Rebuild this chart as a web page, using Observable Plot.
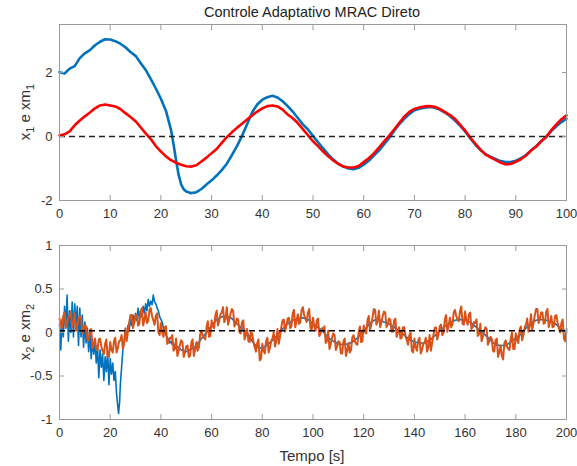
<!DOCTYPE html>
<html><head><meta charset="utf-8">
<script src="https://cdn.jsdelivr.net/npm/d3@7"></script>
<script src="https://cdn.jsdelivr.net/npm/@observablehq/plot@0.6"></script>
<style>
body{margin:0;background:#fff;font-family:"Liberation Sans",Arial,sans-serif}
#c{position:relative;width:577px;height:466px}
#c svg{position:absolute;left:0;overflow:visible}
</style>
</head><body><div id="c"></div>
<script>
// ---------- data ----------
const title = "Controle Adaptativo MRAC Direto";
const xLabel = "Tempo [s]";
const xTicksTop = [0,10,20,30,40,50,60,70,80,90,100];
const yTicksTop = [-2,0,2];
const xTicksBot = [0,20,40,60,80,100,120,140,160,180,200];
const yTicksBot = [-1,-0.5,0,0.5,1];
const refTop = 0;
const refBot = 0.02;

// top: x1 (blue)
const tX1 = [0,1,2,3,4,5,6,7,8,9,10,11,12,13,14,15,16,17,18,19,20,21,22,22.5,23,23.5,24,24.5,25,26,27,28,29,30,31,32,33,34,35,36,37,38,39,40,41,42,43,44,45,46,47,48,49,50,51,52,53,54,55,56,57,58,59,60,61,62,63,64,65,66,67,68,69,70,71,72,73,74,75,76,77,78,79,80,81,82,83,84,85,86,87,88,89,90,91,92,93,94,95,96,97,98,99,100];
const x1 = [2.01,1.97,2.12,2.2,2.45,2.6,2.7,2.85,2.96,3.04,3.03,2.98,2.9,2.79,2.64,2.52,2.3,2.08,1.8,1.5,1.18,0.8,0.2,-0.25,-0.75,-1.2,-1.5,-1.65,-1.72,-1.77,-1.74,-1.64,-1.5,-1.37,-1.22,-1.05,-0.85,-0.58,-0.3,0.02,0.38,0.76,1.0,1.15,1.23,1.27,1.22,1.1,0.95,0.78,0.58,0.38,0.22,0.02,-0.18,-0.37,-0.56,-0.72,-0.85,-0.94,-1.0,-1.02,-0.98,-0.88,-0.76,-0.6,-0.44,-0.25,-0.05,0.17,0.38,0.55,0.7,0.82,0.87,0.9,0.92,0.9,0.84,0.75,0.64,0.5,0.34,0.16,-0.05,-0.25,-0.42,-0.55,-0.63,-0.7,-0.77,-0.8,-0.8,-0.76,-0.68,-0.58,-0.44,-0.3,-0.15,-0.02,0.17,0.32,0.45,0.56];

// top: xm1 (red), t = 0..100 step 1
const xm1 = [0.03,0.07,0.16,0.35,0.5,0.63,0.75,0.88,0.97,1.0,0.97,0.94,0.86,0.73,0.61,0.48,0.29,0.1,-0.08,-0.3,-0.47,-0.62,-0.74,-0.82,-0.88,-0.93,-0.94,-0.9,-0.78,-0.66,-0.52,-0.39,-0.2,-0.02,0.13,0.27,0.4,0.53,0.66,0.78,0.88,0.95,0.97,0.94,0.84,0.69,0.57,0.42,0.23,0.04,-0.15,-0.3,-0.47,-0.62,-0.75,-0.86,-0.94,-0.97,-0.97,-0.92,-0.8,-0.68,-0.53,-0.35,-0.16,0.02,0.22,0.42,0.62,0.77,0.86,0.91,0.94,0.95,0.93,0.86,0.77,0.67,0.55,0.37,0.19,-0.03,-0.22,-0.4,-0.56,-0.65,-0.73,-0.82,-0.87,-0.86,-0.79,-0.71,-0.6,-0.44,-0.32,-0.15,-0.01,0.2,0.38,0.54,0.66];

// bottom: x2 (blue)
const tX2 = [0,0.5,1,1.5,2,2.5,3,3.5,4,4.5,5,5.5,6,6.5,7,7.5,8,8.5,9,9.5,10,10.5,11,11.5,12,12.5,13,13.5,14,14.5,15,15.5,16,16.5,17,17.5,18,18.5,19,19.5,20,20.5,21,21.5,22,22.5,23,23.3,23.7,24,24.5,25,25.5,26,26.5,27,27.5,28,28.5,29,29.5,30,30.5,31,31.5,32,32.5,33,33.5,34,34.5,35,35.5,36,36.5,37,37.5,38,38.5,39,39.5,40,40.5,41,41.5,42,42.5,43,43.5,44,44.5,45,46,48,50,52,54,56,58,60,62,64,66,68,70,72,74,76,78,80,82,84,86,88,90,92,94,96,98,100,102,104,106,108,110,112,114,116,118,120,122,124,126,128,130,132,134,136,138,140,142,144,146,148,150,152,154,156,158,160,162,164,166,168,170,172,174,176,178,180,182,184,186,188,190,192,194,196,198,200];
const x2 = [0.1,-0.2,0.15,-0.05,0.3,0.05,0.43,-0.1,0.25,0.0,0.35,-0.05,0.33,0.08,0.3,-0.15,0.28,-0.05,0.2,-0.17,0.12,-0.12,0.05,-0.22,0.0,-0.3,-0.08,-0.25,-0.1,-0.35,-0.15,-0.52,-0.2,-0.4,-0.25,-0.55,-0.28,-0.45,-0.22,-0.6,-0.3,-0.48,-0.35,-0.55,-0.45,-0.7,-0.85,-0.93,-0.8,-0.6,-0.4,-0.2,-0.1,0.02,-0.03,0.08,0.02,0.15,0.08,0.2,0.1,0.22,0.14,0.28,0.16,0.25,0.18,0.3,0.22,0.33,0.25,0.38,0.3,0.36,0.32,0.43,0.35,0.33,0.28,0.25,0.18,0.15,0.12,0.05,0.02,-0.03,-0.06,-0.08,-0.12,-0.1,-0.14,-0.13,-0.15,-0.2,-0.22,-0.19,-0.15,-0.07,0.0,0.08,0.15,0.18,0.19,0.16,0.1,0.05,0.0,-0.1,-0.17,-0.18,-0.14,-0.09,-0.03,0.04,0.1,0.14,0.16,0.17,0.15,0.1,0.06,0.01,-0.06,-0.1,-0.13,-0.14,-0.13,-0.1,-0.05,0.02,0.09,0.14,0.15,0.12,0.1,0.06,0.02,-0.03,-0.08,-0.11,-0.12,-0.12,-0.09,-0.04,0.02,0.07,0.11,0.14,0.15,0.14,0.12,0.07,0.02,-0.03,-0.09,-0.14,-0.15,-0.15,-0.11,-0.06,-0.02,0.05,0.11,0.14,0.15,0.14,0.13,0.09,0.04,0.0];

// bottom: xm2 (orange), samples at t = 0..200 (whole seconds)
const xm2 = [0.16,0.05,0.23,0.10,0.19,0.06,0.22,0.08,0.19,-0.01,0.08,-0.08,0.03,-0.18,-0.07,-0.2,-0.07,-0.21,-0.13,-0.28,-0.11,-0.23,-0.06,-0.18,-0.09,-0.19,0.05,0.01,0.2,0.05,0.2,0.08,0.24,0.08,0.23,0.13,0.28,0.14,0.19,0.0,0.11,-0.05,0.07,-0.11,-0.07,-0.21,-0.07,-0.21,-0.09,-0.28,-0.16,-0.28,-0.12,-0.27,-0.11,-0.17,0.02,-0.06,0.06,-0.05,0.14,0.05,0.25,0.13,0.23,0.12,0.29,0.15,0.27,0.07,0.16,0.0,0.12,-0.08,0.04,-0.11,-0.01,-0.17,-0.12,-0.32,-0.13,-0.24,-0.06,-0.18,-0.07,-0.16,0.04,-0.04,0.14,0.01,0.16,0.05,0.22,0.06,0.21,0.12,0.29,0.16,0.23,0.05,0.17,0.02,0.16,-0.01,0.04,-0.12,0.02,-0.13,-0.01,-0.2,-0.1,-0.24,-0.1,-0.27,-0.12,-0.2,-0.03,-0.13,0.0,-0.11,0.08,-0.01,0.19,0.09,0.27,0.09,0.25,0.12,0.24,0.06,0.16,0.01,0.14,-0.05,0.06,-0.06,0.06,-0.09,-0.03,-0.21,-0.07,-0.21,-0.06,-0.2,-0.12,-0.22,-0.03,-0.12,0.05,-0.08,0.07,-0.03,0.15,0.01,0.17,0.09,0.26,0.15,0.25,0.1,0.24,0.09,0.23,0.06,0.11,-0.04,0.1,-0.05,0.06,-0.14,-0.05,-0.21,-0.09,-0.28,-0.15,-0.31,-0.09,-0.19,-0.07,-0.19,-0.01,-0.12,0.07,-0.03,0.09,0.01,0.21,0.11,0.27,0.11,0.23,0.1,0.24,0.06,0.19,0.07,0.2,0.05,0.11,-0.07,0.04];
// bottom: xm2 (orange), samples at t = 0.5..199.5 (half seconds)
const xm2Half = [0.08,0.19,0.06,0.18,0.24,0.1,0.02,0.15,0.17,0.03,0.07,-0.09,0.04,-0.14,-0.2,-0.08,-0.16,-0.25,-0.08,-0.28,-0.2,-0.1,-0.23,-0.1,-0.03,-0.12,-0.1,0.12,0.2,0.12,0.21,0.1,0.28,0.15,0.11,0.26,0.19,0.09,0.22,-0.03,0.0,0.06,-0.13,-0.06,-0.03,-0.19,-0.27,-0.14,-0.11,-0.23,-0.15,-0.27,-0.08,-0.2,-0.21,-0.02,-0.04,-0.08,0.13,-0.04,0.07,0.2,0.08,0.21,0.29,0.16,0.09,0.22,0.25,0.1,0.15,-0.01,0.14,-0.03,-0.1,0.0,-0.11,-0.22,-0.08,-0.3,-0.21,-0.1,-0.23,-0.1,0.0,-0.1,-0.13,0.06,0.15,0.08,0.17,0.07,0.26,0.13,0.1,0.26,0.2,0.12,0.27,0.03,0.07,0.14,-0.04,0.05,0.07,-0.1,-0.19,-0.06,-0.03,-0.16,-0.11,-0.24,-0.07,-0.21,-0.23,-0.06,-0.1,-0.14,0.07,-0.1,0.01,0.14,0.03,0.18,0.26,0.13,0.06,0.19,0.23,0.1,0.15,0.01,0.16,0.0,-0.07,0.06,-0.04,-0.14,0.0,-0.23,-0.17,-0.09,-0.24,-0.13,-0.06,-0.17,-0.21,-0.03,0.06,-0.02,0.09,0.0,0.2,0.08,0.06,0.23,0.19,0.13,0.3,0.09,0.14,0.21,0.04,0.12,0.15,-0.02,-0.1,0.02,0.04,-0.1,-0.07,-0.22,-0.07,-0.23,-0.27,-0.12,-0.16,-0.2,0.0,-0.19,-0.09,0.03,-0.09,0.06,0.16,0.07,0.03,0.2,0.27,0.16,0.23,0.11,0.27,0.12,0.06,0.19,0.11,0.0,0.15,-0.1];

// ---------- build ----------
const topX1 = tX1.map((t, i) => ({t, v: x1[i]}));
const topXm1 = xm1.map((v, i) => ({t: i, v}));
const botX2 = tX2.map((t, i) => ({t, v: x2[i]}));
const botXm2 = [];
xm2.forEach((v, i) => {
  botXm2.push({t: i, v});
  if (i < xm2Half.length) botXm2.push({t: i + 0.5, v: xm2Half[i]});
});

const AX = "#9a9a9a", TXT = "#333";
const FONT = "Liberation Sans, Arial, sans-serif";
const fmt = d => String(d);

function axes(xt, yt) {
  return [
    Plot.frame({stroke: AX}),
    Plot.axisX(xt, {anchor: "bottom", tickSize: -5, tickPadding: 13, stroke: AX, fill: TXT, tickFormat: fmt, label: null, fontSize: 13}),
    Plot.axisX(xt, {anchor: "top", tickSize: -5, stroke: AX, tickFormat: () => "", label: null}),
    Plot.axisY(yt, {anchor: "left", tickSize: -5, tickPadding: 12, stroke: AX, fill: TXT, tickFormat: fmt, label: null, fontSize: 13}),
    Plot.axisY(yt, {anchor: "right", tickSize: -5, stroke: AX, tickFormat: () => "", label: null})
  ];
}

const topPlot = Plot.plot({
  width: 577, height: 230,
  marginTop: 24, marginBottom: 30, marginLeft: 59, marginRight: 11,
  style: {fontFamily: FONT, fontSize: "13px", background: "transparent", overflow: "visible"},
  x: {domain: [0, 100]},
  y: {domain: [-2, 3.5]},
  marks: [
    Plot.line(topX1, {x: "t", y: "v", stroke: "#0072BD", strokeWidth: 2.6}),
    Plot.line(topXm1, {x: "t", y: "v", stroke: "#FF0000", strokeWidth: 2.6}),
    Plot.ruleY([refTop], {stroke: "#222", strokeWidth: 1.3, strokeDasharray: "6,4"}),
    ...axes(xTicksTop, yTicksTop)
  ]
});

const botPlot = Plot.plot({
  width: 577, height: 236,
  marginTop: 15, marginBottom: 47, marginLeft: 59, marginRight: 11,
  style: {fontFamily: FONT, fontSize: "13px", background: "transparent", overflow: "visible"},
  x: {domain: [0, 200]},
  y: {domain: [-1, 1]},
  marks: [
    Plot.line(botX2, {x: "t", y: "v", stroke: "#0072BD", strokeWidth: 1.6}),
    Plot.line(botXm2, {x: "t", y: "v", stroke: "#D95319", strokeWidth: 2}),
    Plot.ruleY([refBot], {stroke: "#000", strokeWidth: 1.3, strokeDasharray: "6,4"}),
    ...axes(xTicksBot, yTicksBot)
  ]
});

function ylab(svg, cy, sub) {
  const t = d3.select(svg).append("text")
    .attr("transform", `translate(30,${cy}) rotate(-90)`)
    .attr("text-anchor", "middle")
    .attr("font-family", FONT).attr("font-size", 15).attr("fill", TXT);
  t.append("tspan").text("x");
  t.append("tspan").attr("dy", 4).attr("font-size", 11).text(sub);
  t.append("tspan").attr("dy", -4).text(" e xm");
  t.append("tspan").attr("dy", 4).attr("font-size", 11).text(sub);
}

d3.select(topPlot).append("text")
  .attr("x", 312).attr("y", 17).attr("text-anchor", "middle")
  .attr("font-family", FONT).attr("font-size", 14.5).attr("fill", "#222").text(title);
ylab(topPlot, 112, "1");

d3.select(botPlot).append("text")
  .attr("x", 312).attr("y", 231).attr("text-anchor", "middle")
  .attr("font-family", FONT).attr("font-size", 15).attr("fill", TXT).text(xLabel);
ylab(botPlot, 102, "2");

const c = document.getElementById("c");
topPlot.style.top = "0px";
botPlot.style.top = "230px";
c.appendChild(topPlot);
c.appendChild(botPlot);
</script>
</body></html>
